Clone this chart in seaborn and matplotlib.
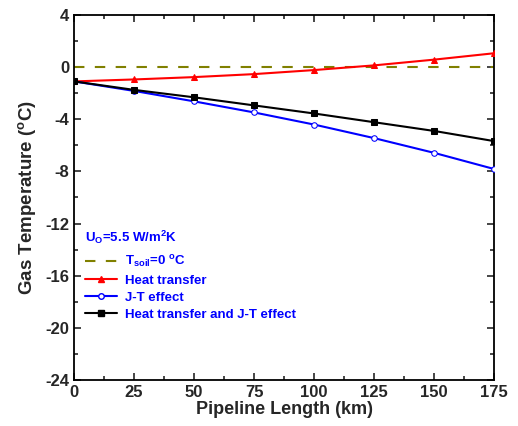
import matplotlib
matplotlib.use("Agg")
import matplotlib.pyplot as plt
from matplotlib.ticker import MultipleLocator
from matplotlib.lines import Line2D
import seaborn as sns
import pandas as pd

length_km = [0, 25, 50, 75, 100, 125, 150, 175]
heat_transfer = [-1.1, -0.95, -0.77, -0.54, -0.23, 0.13, 0.57, 1.06]
jt_effect = [-1.1, -1.83, -2.63, -3.48, -4.41, -5.45, -6.58, -7.82]
combined = [-1.1, -1.75, -2.32, -2.94, -3.56, -4.23, -4.90, -5.68]
t_soil = 0.0

sns.set_style("ticks")
plt.rcParams['font.family'] = ['Liberation Sans', 'DejaVu Sans']
plt.rcParams['axes.unicode_minus'] = False
plt.rcParams['mathtext.fontset'] = 'custom'
plt.rcParams['mathtext.rm'] = 'Liberation Sans:bold'
plt.rcParams['mathtext.it'] = 'Liberation Sans:bold'
plt.rcParams['mathtext.bf'] = 'Liberation Sans:bold'

fig = plt.figure(figsize=(5.18, 4.26), dpi=100)
ax = fig.add_axes([0.143, 0.108, 0.811, 0.857])

df = pd.DataFrame({"x": length_km, "ht": heat_transfer, "jt": jt_effect, "cb": combined})

ax.axhline(t_soil, color="#808000", lw=1.5, ls=(0, (5, 5)), zorder=1)
sns.lineplot(data=df, x="x", y="ht", ax=ax, color="red", lw=1.5, marker="^",
             markersize=5, markeredgecolor="red", markerfacecolor="red", zorder=3)
sns.lineplot(data=df, x="x", y="jt", ax=ax, color="blue", lw=1.5, marker="o",
             markersize=4, markeredgecolor="blue", markerfacecolor="white", zorder=3)
sns.lineplot(data=df, x="x", y="cb", ax=ax, color="black", lw=1.5, marker="s",
             markersize=4, markeredgecolor="black", markerfacecolor="black", zorder=3)

ax.set_xlim(0, 175)
ax.set_ylim(-24, 4)
ax.xaxis.set_major_locator(MultipleLocator(25))
ax.xaxis.set_minor_locator(MultipleLocator(12.5))
ax.yaxis.set_major_locator(MultipleLocator(4))
ax.yaxis.set_minor_locator(MultipleLocator(2))
ax.tick_params(which="both", direction="in", top=True, right=True, width=1.2)
ax.tick_params(which="major", length=5, labelsize=12)
ax.tick_params(which="minor", length=3)
for lab in ax.get_xticklabels() + ax.get_yticklabels():
    lab.set_fontweight("bold")
for s in ax.spines.values():
    s.set_linewidth(1.3)
    s.set_color("black")

ax.set_xlabel("Pipeline Length (km)", fontsize=13, fontweight="bold", labelpad=1)
ax.set_ylabel(r"Gas Temperature ($^\mathregular{o}$C)", fontsize=13.5, fontweight="bold", labelpad=5)

ax.text(0.027, 0.392, r"U$_\mathregular{O}$=5.5 W/m$^\mathregular{2}$K", transform=ax.transAxes,
        color="blue", fontsize=9.5, fontweight="bold", va="center", ha="left")

handles = [
    Line2D([], [], color="#808000", lw=1.5, ls=(0, (5, 5))),
    Line2D([], [], color="red", lw=1.5, marker="^", markersize=5),
    Line2D([], [], color="blue", lw=1.5, marker="o", markersize=4, markerfacecolor="white"),
    Line2D([], [], color="black", lw=1.5, marker="s", markersize=4),
]
labels = [r"T$_\mathregular{soil}$=0 $^\mathregular{o}$C", "Heat transfer", "J-T effect",
          "Heat transfer and J-T effect"]
leg = ax.legend(handles, labels, loc="upper left", bbox_to_anchor=(0.005, 0.37),
                frameon=False, fontsize=9.5, handlelength=2.4, handletextpad=0.6,
                labelspacing=0.35, borderaxespad=0.3)
for t in leg.get_texts():
    t.set_color("blue")
    t.set_fontweight("bold")

fig.savefig("out.png", dpi=100)
